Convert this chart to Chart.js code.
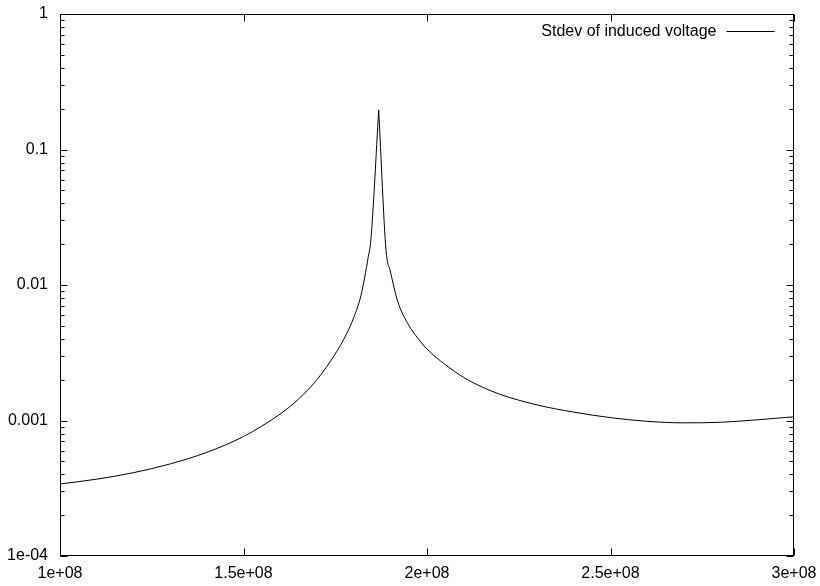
<!DOCTYPE html>
<html>
<head>
<meta charset="utf-8">
<script src="https://cdn.jsdelivr.net/npm/chart.js@4.4.1/dist/chart.umd.min.js"></script>
<style>
  body { margin: 0; background: #fff; }
  canvas { display: block; }
</style>
</head>
<body>
<canvas id="chart" width="820" height="586"></canvas>
<script>
// frequency (Hz) and stdev of induced voltage
const freqs = [
  1.0e8, 1.1e8, 1.2e8, 1.3e8, 1.4e8, 1.5e8, 1.6e8, 1.65e8, 1.7e8, 1.75e8,
  1.78e8, 1.8e8, 1.82e8, 1.84e8, 1.847e8, 1.8684e8,
  1.8883e8, 1.9e8, 1.92e8, 1.95e8, 1.97e8, 2.0e8, 2.05e8, 2.1e8, 2.15e8,
  2.2e8, 2.3e8, 2.4e8, 2.5e8, 2.6e8, 2.7e8, 2.8e8, 2.9e8, 3.0e8
];
const stdev = [
  3.40e-4, 3.69e-4, 4.12e-4, 4.78e-4, 5.82e-4, 7.62e-4, 1.117e-3, 1.44e-3, 2.00e-3, 3.10e-3,
  4.31e-3, 5.71e-3, 8.37e-3, 0.01615, 0.0215, 0.196,
  0.01813, 0.0127, 7.6e-3, 5.06e-3, 4.22e-3, 3.37e-3, 2.58e-3, 2.08e-3, 1.767e-3,
  1.556e-3, 1.303e-3, 1.153e-3, 1.05e-3, 9.86e-4, 9.61e-4, 9.70e-4, 1.012e-3, 1.065e-3
];
const xTickValues = [1e8, 1.5e8, 2e8, 2.5e8, 3e8];
const xTickLabels = ['1e+08', '1.5e+08', '2e+08', '2.5e+08', '3e+08'];
const yTickValues = [1e-4, 1e-3, 1e-2, 1e-1, 1];
const yTickLabels = ['1e-04', '0.001', '0.01', '0.1', '1'];

const FONT = '"Liberation Sans", Arial, sans-serif';

// the resonance tip is sharp: draw the rising and falling side as two smooth pieces
const peak = stdev.indexOf(Math.max(...stdev));
const points = freqs.map((f, i) => ({ x: f, y: stdev[i] }));
const lineStyle = {
  borderColor: '#000',
  borderWidth: 1,
  pointRadius: 0,
  cubicInterpolationMode: 'monotone',
  fill: false
};

// gnuplot style frame with inward ticks on all four sides, plus the key
const gnuplotFrame = {
  id: 'gnuplotFrame',
  afterDraw(chart) {
    const { ctx, chartArea: a, scales: { x, y } } = chart;
    const L = Math.round(a.left) + 0.5, R = Math.round(a.right) - 0.5;
    const T = Math.round(a.top) + 0.5, B = Math.round(a.bottom) - 0.5;
    ctx.save();
    ctx.strokeStyle = '#000';
    ctx.lineWidth = 1;
    ctx.strokeRect(L, T, R - L, B - T);

    ctx.beginPath();
    xTickValues.forEach(v => {
      const px = Math.round(x.getPixelForValue(v)) + 0.5;
      ctx.moveTo(px, B); ctx.lineTo(px, B - 7);
      ctx.moveTo(px, T); ctx.lineTo(px, T + 7);
    });
    for (let k = -4; k <= 0; k++) {
      for (let d = 1; d <= 9; d++) {
        const v = d * Math.pow(10, k);
        if (v > 1.0000001) break;
        const py = Math.round(y.getPixelForValue(v)) + 0.5;
        const len = d === 1 ? 7 : 4;
        ctx.moveTo(L, py); ctx.lineTo(L + len, py);
        ctx.moveTo(R, py); ctx.lineTo(R - len, py);
      }
    }
    ctx.stroke();

    // key: text then line sample, top right
    const ky = 31.5;
    ctx.font = '16px ' + FONT;
    ctx.fillStyle = '#000';
    ctx.textAlign = 'right';
    ctx.textBaseline = 'middle';
    ctx.fillText(chart.data.datasets[0].label, R - 77, ky);
    ctx.beginPath();
    ctx.moveTo(R - 67, ky); ctx.lineTo(R - 19, ky);
    ctx.stroke();
    ctx.restore();
  }
};

new Chart(document.getElementById('chart'), {
  type: 'line',
  data: {
    datasets: [
      { label: 'Stdev of induced voltage', data: points.slice(0, peak + 1), ...lineStyle },
      { label: 'Stdev of induced voltage', data: points.slice(peak), ...lineStyle }
    ]
  },
  options: {
    responsive: false,
    animation: false,
    layout: { padding: { top: 14, right: 26, left: 0, bottom: 0 } },
    plugins: { legend: { display: false }, tooltip: { enabled: false } },
    scales: {
      x: {
        type: 'linear',
        min: 1e8,
        max: 3e8,
        afterFit: s => { s.height = 30; s.paddingLeft = 0; s.paddingRight = 0; },
        afterBuildTicks: s => { s.ticks = xTickValues.map(v => ({ value: v })); },
        grid: { display: false, drawTicks: false },
        border: { display: false },
        ticks: {
          padding: 8,
          color: '#000',
          font: { family: FONT, size: 16 },
          maxRotation: 0,
          autoSkip: false,
          callback: v => xTickLabels[xTickValues.indexOf(v)]
        }
      },
      y: {
        type: 'logarithmic',
        min: 1e-4,
        max: 1,
        afterFit: s => { s.width = 60; s.paddingTop = 0; s.paddingBottom = 0; },
        afterBuildTicks: s => { s.ticks = yTickValues.map(v => ({ value: v })); },
        grid: { display: false, drawTicks: false },
        border: { display: false },
        ticks: {
          padding: 12,
          color: '#000',
          font: { family: FONT, size: 16 },
          autoSkip: false,
          callback: v => {
            const i = yTickValues.findIndex(t => Math.abs(t - v) / t < 1e-6);
            return i >= 0 ? yTickLabels[i] : null;
          }
        }
      }
    }
  },
  plugins: [gnuplotFrame]
});
</script>
</body>
</html>
